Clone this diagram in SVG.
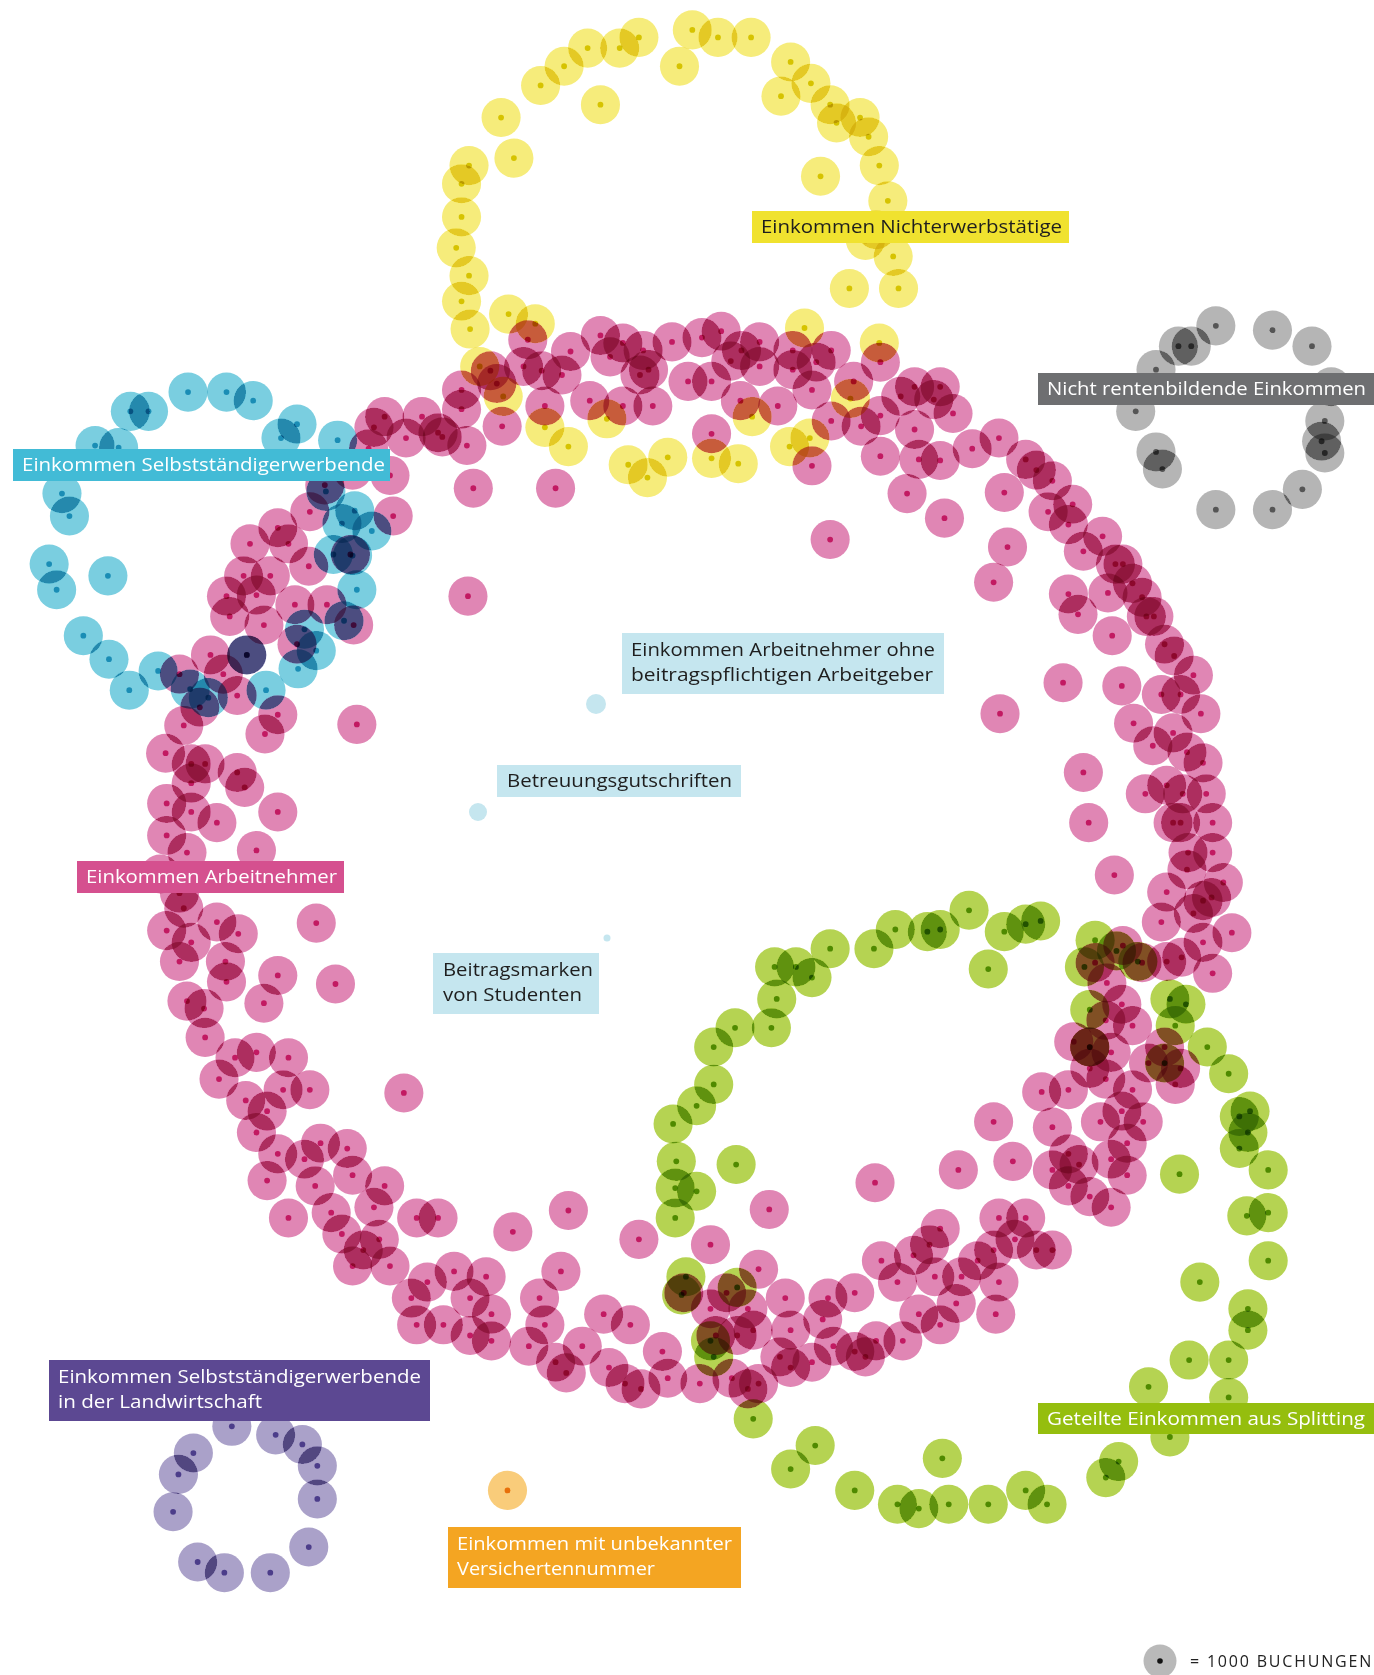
<svg xmlns="http://www.w3.org/2000/svg" width="1374" height="1675" viewBox="0 0 1374 1675">
<style>
.lt{font-family:"Open Sans","Liberation Sans",sans-serif;font-size:17.5px;fill:#fff}
.dk{fill:#1e1e1e}
</style>
<defs>
<g id="M" style="mix-blend-mode:var(--bm,multiply);fill-opacity:var(--fo,1)"><circle r="18.3" style="fill:var(--w,#e086b4)"/><circle r="2.7" style="fill:var(--w,#c21a62);fill-opacity:var(--do,1)"/></g>
<g id="Y" style="mix-blend-mode:var(--bm,multiply);fill-opacity:var(--fo,1)"><circle r="18.3" style="fill:var(--w,#f6ec7b)"/><circle r="2.7" style="fill:var(--w,#d6c300);fill-opacity:var(--do,1)"/></g>
<g id="C" style="mix-blend-mode:var(--bm,multiply);fill-opacity:var(--fo,1)"><circle r="18.3" style="fill:var(--w,#7acee0)"/><circle r="2.7" style="fill:var(--w,#1a8db5);fill-opacity:var(--do,1)"/></g>
<g id="G" style="mix-blend-mode:var(--bm,multiply);fill-opacity:var(--fo,1)"><circle r="18.3" style="fill:var(--w,#b5b5b5)"/><circle r="2.7" style="fill:var(--w,#555555);fill-opacity:var(--do,1)"/></g>
<g id="P" style="mix-blend-mode:var(--bm,multiply);fill-opacity:var(--fo,1)"><circle r="18.3" style="fill:var(--w,#aaa1c9)"/><circle r="2.7" style="fill:var(--w,#4c3d8a);fill-opacity:var(--do,1)"/></g>
<g id="L" style="mix-blend-mode:var(--bm,multiply);fill-opacity:var(--fo,1)"><circle r="18.3" style="fill:var(--w,#b5d352)"/><circle r="2.7" style="fill:var(--w,#4f8a00);fill-opacity:var(--do,1)"/></g>
<g id="O" style="mix-blend-mode:var(--bm,multiply);fill-opacity:var(--fo,1)"><circle r="18.3" style="fill:var(--w,#f9cc7a)"/><circle r="2.7" style="fill:var(--w,#e8700a);fill-opacity:var(--do,1)"/></g>
<filter id="thr" filterUnits="userSpaceOnUse" x="0" y="0" width="1374" height="1675"><feComponentTransfer><feFuncA type="discrete" tableValues="0 0 0 1 1"/></feComponentTransfer></filter>
<mask id="ovm" maskUnits="userSpaceOnUse" x="0" y="0" width="1374" height="1675"><g filter="url(#thr)"><use href="#pts" style="--w:#fff;--fo:0.4;--do:0;--bm:normal"/></g></mask>
</defs>
<rect width="1374" height="1675" fill="#fff"/>
<g id="pts" transform="scale(1.0684)">
<g id="cluster-nichterwerb">
<use href="#Y" x="648" y="28"/><use href="#Y" x="672" y="35"/><use href="#Y" x="703" y="35"/><use href="#Y" x="598" y="35"/><use href="#Y" x="580" y="45"/><use href="#Y" x="550" y="45"/><use href="#Y" x="528" y="62"/><use href="#Y" x="506" y="80"/><use href="#Y" x="469" y="110"/><use href="#Y" x="481" y="148"/><use href="#Y" x="562" y="98"/><use href="#Y" x="636" y="62"/><use href="#Y" x="740" y="58"/><use href="#Y" x="731" y="90"/><use href="#Y" x="759" y="78"/><use href="#Y" x="777" y="98"/><use href="#Y" x="783" y="115"/><use href="#Y" x="805" y="110"/><use href="#Y" x="813" y="128"/><use href="#Y" x="823" y="155"/><use href="#Y" x="768" y="165"/><use href="#Y" x="831" y="188"/><use href="#Y" x="439" y="155"/><use href="#Y" x="432" y="172"/><use href="#Y" x="432" y="203"/><use href="#Y" x="427" y="232"/><use href="#Y" x="439" y="258"/><use href="#Y" x="432" y="282"/><use href="#Y" x="440" y="308"/><use href="#Y" x="476" y="294"/><use href="#Y" x="501" y="303"/><use href="#Y" x="449" y="343"/><use href="#Y" x="471" y="371"/><use href="#Y" x="836" y="240"/><use href="#Y" x="841" y="270"/><use href="#Y" x="795" y="270"/><use href="#Y" x="823" y="321"/><use href="#Y" x="753" y="307"/><use href="#Y" x="510" y="400"/><use href="#Y" x="532" y="418"/><use href="#Y" x="568" y="392"/><use href="#Y" x="588" y="435"/><use href="#Y" x="606" y="447"/><use href="#Y" x="625" y="428"/><use href="#Y" x="666" y="429"/><use href="#Y" x="691" y="434"/><use href="#Y" x="739" y="418"/><use href="#Y" x="758" y="410"/><use href="#Y" x="704" y="390"/><use href="#Y" x="796" y="373"/><use href="#Y" x="820" y="215"/><use href="#Y" x="810" y="225"/>
</g>
<g id="cluster-arbeitnehmer">
<use href="#M" x="330" y="440"/><use href="#M" x="345" y="420"/><use href="#M" x="350" y="400"/><use href="#M" x="365" y="445"/><use href="#M" x="360" y="390"/><use href="#M" x="380" y="410"/><use href="#M" x="395" y="390"/><use href="#M" x="410" y="405"/>
<use href="#M" x="432" y="365"/><use href="#M" x="432" y="383"/><use href="#M" x="414" y="409"/><use href="#M" x="437" y="417"/><use href="#M" x="459" y="347"/><use href="#M" x="465" y="359"/><use href="#M" x="490" y="343"/><use href="#M" x="507" y="347"/><use href="#M" x="510" y="380"/><use href="#M" x="470" y="399"/><use href="#M" x="494" y="318"/><use href="#M" x="534" y="329"/><use href="#M" x="526" y="351"/><use href="#M" x="552" y="375"/><use href="#M" x="562" y="314"/><use href="#M" x="571" y="334"/><use href="#M" x="583" y="321"/><use href="#M" x="602" y="328"/><use href="#M" x="599" y="351"/><use href="#M" x="607" y="346"/><use href="#M" x="583" y="380"/><use href="#M" x="611" y="380"/><use href="#M" x="629" y="320"/><use href="#M" x="644" y="357"/><use href="#M" x="657" y="316"/><use href="#M" x="666" y="357"/><use href="#M" x="675" y="310"/><use href="#M" x="684" y="338"/><use href="#M" x="694" y="328"/><use href="#M" x="693" y="375"/><use href="#M" x="711" y="320"/><use href="#M" x="711" y="343"/><use href="#M" x="728" y="380"/><use href="#M" x="742" y="328"/><use href="#M" x="742" y="346"/><use href="#M" x="760" y="365"/><use href="#M" x="764" y="339"/><use href="#M" x="778" y="328"/><use href="#M" x="778" y="394"/><use href="#M" x="760" y="436"/><use href="#M" x="799" y="357"/><use href="#M" x="806" y="399"/><use href="#M" x="824" y="339"/><use href="#M" x="824" y="389"/><use href="#M" x="824" y="427"/><use href="#M" x="843" y="371"/><use href="#M" x="856" y="362"/><use href="#M" x="856" y="402"/><use href="#M" x="874" y="374"/><use href="#M" x="860" y="430"/><use href="#M" x="880" y="362"/><use href="#M" x="892" y="387"/><use href="#M" x="880" y="431"/><use href="#M" x="666" y="406"/><use href="#M" x="443" y="457"/><use href="#M" x="520" y="457"/><use href="#M" x="849" y="462"/><use href="#M" x="884" y="485"/><use href="#M" x="777" y="505"/>
<use href="#M" x="910" y="420"/><use href="#M" x="935" y="410"/><use href="#M" x="960" y="430"/><use href="#M" x="970" y="440"/><use href="#M" x="985" y="450"/>
<use href="#M" x="940" y="461"/><use href="#M" x="943" y="512"/><use href="#M" x="930" y="545"/><use href="#M" x="981" y="479"/><use href="#M" x="1000" y="491"/><use href="#M" x="1004" y="472"/><use href="#M" x="1014" y="516"/><use href="#M" x="1032" y="502"/><use href="#M" x="1044" y="528"/><use href="#M" x="1051" y="528"/><use href="#M" x="1000" y="556"/><use href="#M" x="1009" y="575"/><use href="#M" x="1037" y="555"/><use href="#M" x="1060" y="546"/><use href="#M" x="1069" y="559"/><use href="#M" x="1073" y="577"/><use href="#M" x="1080" y="577"/><use href="#M" x="1041" y="595"/><use href="#M" x="1090" y="603"/><use href="#M" x="1099" y="614"/><use href="#M" x="1117" y="632"/><use href="#M" x="995" y="639"/><use href="#M" x="1050" y="642"/><use href="#M" x="1087" y="650"/><use href="#M" x="1105" y="650"/><use href="#M" x="1124" y="668"/><use href="#M" x="936" y="668"/><use href="#M" x="1061" y="677"/><use href="#M" x="1098" y="686"/><use href="#M" x="1079" y="698"/><use href="#M" x="1111" y="704"/><use href="#M" x="1126" y="714"/><use href="#M" x="1014" y="723"/><use href="#M" x="1092" y="735"/><use href="#M" x="1072" y="743"/><use href="#M" x="1107" y="743"/><use href="#M" x="1129" y="743"/><use href="#M" x="1019" y="770"/><use href="#M" x="1098" y="770"/><use href="#M" x="1105" y="770"/><use href="#M" x="1135" y="770"/><use href="#M" x="1112" y="798"/><use href="#M" x="1135" y="798"/><use href="#M" x="1043" y="819"/><use href="#M" x="1111" y="814"/><use href="#M" x="1092" y="835"/><use href="#M" x="1145" y="826"/><use href="#M" x="1126" y="843"/><use href="#M" x="1134" y="840"/><use href="#M" x="1117" y="855"/><use href="#M" x="1087" y="863"/><use href="#M" x="1153" y="873"/><use href="#M" x="1126" y="882"/><use href="#M" x="1106" y="896"/><use href="#M" x="1092" y="900"/><use href="#M" x="1135" y="911"/><use href="#M" x="1051" y="885"/><use href="#M" x="1069" y="901"/><use href="#M" x="1025" y="901"/><use href="#M" x="1036" y="920"/>
<use href="#M" x="1050" y="940"/><use href="#M" x="1060" y="960"/><use href="#M" x="1035" y="955"/><use href="#M" x="1090" y="980"/><use href="#M" x="1005" y="975"/><use href="#M" x="1020" y="980"/><use href="#M" x="1040" y="985"/><use href="#M" x="1075" y="995"/><use href="#M" x="1100" y="1015"/><use href="#M" x="1105" y="1000"/><use href="#M" x="1000" y="1020"/><use href="#M" x="1020" y="1000"/><use href="#M" x="1035" y="1010"/><use href="#M" x="1060" y="1020"/><use href="#M" x="985" y="1055"/><use href="#M" x="1030" y="1050"/><use href="#M" x="1050" y="1040"/><use href="#M" x="1070" y="1050"/><use href="#M" x="1055" y="1070"/><use href="#M" x="1000" y="1080"/><use href="#M" x="1040" y="1085"/><use href="#M" x="1055" y="1100"/><use href="#M" x="985" y="1095"/><use href="#M" x="1010" y="1090"/><use href="#M" x="1000" y="1110"/><use href="#M" x="1020" y="1120"/><use href="#M" x="1040" y="1130"/><use href="#M" x="935" y="1140"/><use href="#M" x="960" y="1140"/><use href="#M" x="950" y="1160"/><use href="#M" x="970" y="1170"/><use href="#M" x="985" y="1170"/><use href="#M" x="915" y="1180"/><use href="#M" x="930" y="1170"/><use href="#M" x="935" y="1200"/><use href="#M" x="932" y="1230"/><use href="#M" x="900" y="1195"/><use href="#M" x="875" y="1195"/><use href="#M" x="870" y="1165"/><use href="#M" x="880" y="1150"/><use href="#M" x="855" y="1175"/><use href="#M" x="840" y="1200"/><use href="#M" x="825" y="1180"/><use href="#M" x="800" y="1210"/><use href="#M" x="775" y="1215"/><use href="#M" x="895" y="1220"/><use href="#M" x="880" y="1240"/><use href="#M" x="860" y="1230"/><use href="#M" x="845" y="1255"/><use href="#M" x="820" y="1255"/><use href="#M" x="810" y="1270"/><use href="#M" x="800" y="1265"/><use href="#M" x="780" y="1260"/><use href="#M" x="770" y="1235"/><use href="#M" x="760" y="1275"/><use href="#M" x="740" y="1280"/><use href="#M" x="730" y="1270"/><use href="#M" x="740" y="1245"/><use href="#M" x="735" y="1215"/><use href="#M" x="705" y="1245"/><use href="#M" x="700" y="1225"/><use href="#M" x="710" y="1188"/><use href="#M" x="680" y="1210"/><use href="#M" x="665" y="1165"/><use href="#M" x="640" y="1210"/><use href="#M" x="665" y="1225"/><use href="#M" x="690" y="1250"/><use href="#M" x="685" y="1290"/><use href="#M" x="700" y="1300"/><use href="#M" x="710" y="1295"/><use href="#M" x="670" y="1250"/><use href="#M" x="655" y="1295"/><use href="#M" x="625" y="1290"/><use href="#M" x="620" y="1265"/><use href="#M" x="600" y="1300"/><use href="#M" x="585" y="1295"/><use href="#M" x="590" y="1240"/><use href="#M" x="570" y="1280"/><use href="#M" x="565" y="1230"/><use href="#M" x="545" y="1260"/><use href="#M" x="530" y="1285"/><use href="#M" x="520" y="1275"/><use href="#M" x="525" y="1190"/><use href="#M" x="505" y="1215"/><use href="#M" x="510" y="1240"/><use href="#M" x="495" y="1260"/><use href="#M" x="460" y="1255"/><use href="#M" x="440" y="1250"/><use href="#M" x="460" y="1230"/><use href="#M" x="455" y="1195"/><use href="#M" x="440" y="1215"/><use href="#M" x="425" y="1190"/><use href="#M" x="415" y="1240"/><use href="#M" x="390" y="1240"/><use href="#M" x="385" y="1215"/><use href="#M" x="400" y="1200"/><use href="#M" x="410" y="1140"/><use href="#M" x="390" y="1140"/><use href="#M" x="365" y="1185"/><use href="#M" x="330" y="1185"/><use href="#M" x="340" y="1170"/><use href="#M" x="355" y="1160"/><use href="#M" x="320" y="1155"/><use href="#M" x="350" y="1130"/><use href="#M" x="360" y="1110"/><use href="#M" x="310" y="1135"/><use href="#M" x="330" y="1100"/><use href="#M" x="325" y="1075"/><use href="#M" x="295" y="1110"/><use href="#M" x="270" y="1140"/><use href="#M" x="250" y="1105"/><use href="#M" x="300" y="1070"/><use href="#M" x="285" y="1085"/><use href="#M" x="260" y="1080"/><use href="#M" x="240" y="1060"/><use href="#M" x="290" y="1020"/><use href="#M" x="265" y="1020"/><use href="#M" x="270" y="990"/><use href="#M" x="250" y="1040"/><use href="#M" x="230" y="1030"/><use href="#M" x="205" y="1010"/><use href="#M" x="220" y="990"/><use href="#M" x="240" y="985"/>
<use href="#M" x="234" y="509"/><use href="#M" x="260" y="494"/><use href="#M" x="290" y="479"/><use href="#M" x="304" y="454"/><use href="#M" x="368" y="483"/><use href="#M" x="270" y="509"/><use href="#M" x="289" y="530"/><use href="#M" x="328" y="519"/><use href="#M" x="253" y="539"/><use href="#M" x="228" y="539"/><use href="#M" x="240" y="557"/><use href="#M" x="212" y="558"/><use href="#M" x="215" y="577"/><use href="#M" x="247" y="585"/><use href="#M" x="276" y="566"/><use href="#M" x="306" y="566"/><use href="#M" x="331" y="585"/><use href="#M" x="197" y="613"/><use href="#M" x="209" y="631"/><use href="#M" x="222" y="651"/><use href="#M" x="231" y="613"/><use href="#M" x="260" y="669"/><use href="#M" x="248" y="687"/><use href="#M" x="278" y="603"/><use href="#M" x="168" y="631"/><use href="#M" x="172" y="679"/><use href="#M" x="187" y="662"/><use href="#M" x="155" y="705"/><use href="#M" x="179" y="715"/><use href="#M" x="192" y="715"/><use href="#M" x="222" y="723"/><use href="#M" x="229" y="737"/><use href="#M" x="179" y="733"/><use href="#M" x="156" y="752"/><use href="#M" x="179" y="760"/><use href="#M" x="203" y="770"/><use href="#M" x="156" y="782"/><use href="#M" x="175" y="798"/><use href="#M" x="260" y="760"/><use href="#M" x="240" y="796"/><use href="#M" x="334" y="678"/><use href="#M" x="150" y="818"/><use href="#M" x="168" y="836"/><use href="#M" x="172" y="850"/><use href="#M" x="156" y="871"/><use href="#M" x="203" y="863"/><use href="#M" x="223" y="874"/><use href="#M" x="179" y="882"/><use href="#M" x="168" y="900"/><use href="#M" x="211" y="900"/><use href="#M" x="296" y="864"/><use href="#M" x="260" y="913"/><use href="#M" x="314" y="921"/><use href="#M" x="212" y="919"/><use href="#M" x="175" y="937"/><use href="#M" x="191" y="944"/><use href="#M" x="247" y="939"/><use href="#M" x="192" y="971"/>
<use href="#M" x="438" y="558"/><use href="#M" x="378" y="1023"/><use href="#M" x="480" y="1153"/><use href="#M" x="532" y="1133"/><use href="#M" x="598" y="1160"/><use href="#M" x="720" y="1132"/><use href="#M" x="819" y="1107"/><use href="#M" x="897" y="1095"/><use href="#M" x="930" y="1050"/><use href="#M" x="948" y="1087"/><use href="#M" x="975" y="1022"/>
</g>
<g id="cluster-selbststaendig">
<use href="#C" x="122" y="385"/><use href="#C" x="139" y="385"/><use href="#C" x="176" y="367"/><use href="#C" x="212" y="367"/><use href="#C" x="237" y="375"/><use href="#C" x="278" y="397"/><use href="#C" x="263" y="410"/><use href="#C" x="316" y="412"/><use href="#C" x="89" y="417"/><use href="#C" x="111" y="419"/><use href="#C" x="58" y="462"/><use href="#C" x="65" y="483"/><use href="#C" x="46" y="528"/><use href="#C" x="53" y="552"/><use href="#C" x="101" y="539"/><use href="#C" x="78" y="595"/><use href="#C" x="102" y="617"/><use href="#C" x="121" y="646"/><use href="#C" x="148" y="628"/><use href="#C" x="195" y="653"/><use href="#C" x="178" y="645"/><use href="#C" x="231" y="613"/><use href="#C" x="249" y="646"/><use href="#C" x="279" y="626"/><use href="#C" x="296" y="609"/><use href="#C" x="285" y="589"/><use href="#C" x="322" y="581"/><use href="#C" x="334" y="552"/><use href="#C" x="312" y="519"/><use href="#C" x="330" y="520"/><use href="#C" x="320" y="490"/><use href="#C" x="348" y="497"/><use href="#C" x="305" y="460"/><use href="#C" x="332" y="478"/>
</g>
<g id="cluster-nicht-rentenbildend">
<use href="#G" x="1138" y="305"/><use href="#G" x="1191" y="309"/><use href="#G" x="1228" y="324"/><use href="#G" x="1103" y="324"/><use href="#G" x="1115" y="324"/><use href="#G" x="1082" y="346"/><use href="#G" x="1246" y="362"/><use href="#G" x="1063" y="385"/><use href="#G" x="1240" y="394"/><use href="#G" x="1237" y="413"/><use href="#G" x="1240" y="424"/><use href="#G" x="1082" y="423"/><use href="#G" x="1088" y="439"/><use href="#G" x="1219" y="458"/><use href="#G" x="1138" y="477"/><use href="#G" x="1191" y="477"/>
</g>
<g id="cluster-splitting">
<use href="#L" x="907" y="852"/><use href="#L" x="960" y="865"/><use href="#L" x="974" y="862"/><use href="#L" x="940" y="872"/><use href="#L" x="925" y="907"/><use href="#L" x="880" y="870"/><use href="#L" x="868" y="872"/><use href="#L" x="838" y="870"/><use href="#L" x="818" y="888"/><use href="#L" x="777" y="888"/><use href="#L" x="760" y="915"/><use href="#L" x="745" y="905"/><use href="#L" x="725" y="905"/><use href="#L" x="727" y="935"/><use href="#L" x="722" y="962"/><use href="#L" x="688" y="962"/><use href="#L" x="668" y="980"/><use href="#L" x="668" y="1015"/><use href="#L" x="652" y="1035"/><use href="#L" x="630" y="1052"/><use href="#L" x="633" y="1087"/><use href="#L" x="632" y="1112"/><use href="#L" x="632" y="1140"/><use href="#L" x="652" y="1115"/><use href="#L" x="689" y="1090"/><use href="#L" x="642" y="1195"/><use href="#L" x="638" y="1212"/><use href="#L" x="690" y="1205"/><use href="#L" x="665" y="1255"/><use href="#L" x="668" y="1270"/><use href="#L" x="705" y="1328"/><use href="#L" x="740" y="1375"/><use href="#L" x="763" y="1353"/><use href="#L" x="800" y="1395"/><use href="#L" x="840" y="1408"/><use href="#L" x="860" y="1412"/><use href="#L" x="882" y="1365"/><use href="#L" x="888" y="1408"/><use href="#L" x="925" y="1408"/><use href="#L" x="960" y="1395"/><use href="#L" x="980" y="1408"/><use href="#L" x="1035" y="1383"/><use href="#L" x="1047" y="1368"/><use href="#L" x="1075" y="1298"/><use href="#L" x="1095" y="1345"/><use href="#L" x="1113" y="1273"/><use href="#L" x="1150" y="1273"/><use href="#L" x="1150" y="1308"/><use href="#L" x="1168" y="1245"/><use href="#L" x="1168" y="1225"/><use href="#L" x="1123" y="1200"/><use href="#L" x="1187" y="1180"/><use href="#L" x="1187" y="1135"/><use href="#L" x="1167" y="1138"/><use href="#L" x="1104" y="1099"/><use href="#L" x="1187" y="1095"/><use href="#L" x="1160" y="1075"/><use href="#L" x="1168" y="1060"/><use href="#L" x="1160" y="1045"/><use href="#L" x="1170" y="1040"/><use href="#L" x="1150" y="1005"/><use href="#L" x="1130" y="980"/><use href="#L" x="1100" y="960"/><use href="#L" x="1110" y="940"/><use href="#L" x="1095" y="935"/><use href="#L" x="1025" y="880"/><use href="#L" x="1015" y="905"/><use href="#L" x="1045" y="890"/><use href="#L" x="1065" y="900"/><use href="#L" x="1020" y="945"/><use href="#L" x="1020" y="980"/><use href="#L" x="1090" y="995"/>
</g>
<g id="cluster-landwirtschaft">
<use href="#P" x="217" y="1335"/><use href="#P" x="258" y="1343"/><use href="#P" x="283" y="1352"/><use href="#P" x="297" y="1372"/><use href="#P" x="297" y="1403"/><use href="#P" x="289" y="1448"/><use href="#P" x="253" y="1472"/><use href="#P" x="210" y="1472"/><use href="#P" x="185" y="1462"/><use href="#P" x="162" y="1415"/><use href="#P" x="167" y="1380"/><use href="#P" x="181" y="1360"/>
</g>
<g id="cluster-unbekannt"><use href="#O" x="475" y="1395"/></g>
</g>
<g id="overlap-darkening" mask="url(#ovm)" opacity="0.5" style="mix-blend-mode:multiply"><use href="#pts"/></g>
<g id="cluster-klein" fill="#c5e6ef">
<circle cx="596" cy="704" r="10"/><circle cx="478" cy="812" r="9"/><circle cx="607" cy="938" r="3.5"/>
</g>
<g id="labels" class="lt">
<g id="label-selbststaendig"><rect x="13" y="449" width="377" height="32" fill="#42bbd6"/><text x="22" y="471" textLength="363" lengthAdjust="spacingAndGlyphs">Einkommen Selbstständigerwerbende</text></g>
<g id="label-nichterwerb"><rect x="752" y="211" width="317" height="32" fill="#f0e22f"/><text class="dk" x="761" y="233" textLength="301" lengthAdjust="spacingAndGlyphs">Einkommen Nichterwerbstätige</text></g>
<g id="label-nicht-rentenbildend"><rect x="1038" y="373" width="336" height="32" fill="#6e6f71"/><text x="1047" y="395" textLength="319" lengthAdjust="spacingAndGlyphs">Nicht rentenbildende Einkommen</text></g>
<g id="label-ohne-arbeitgeber"><rect x="622" y="633" width="322" height="61" fill="#c5e6ef"/><text class="dk" x="631" y="656" textLength="304" lengthAdjust="spacingAndGlyphs">Einkommen Arbeitnehmer ohne</text><text class="dk" x="631" y="681" textLength="302" lengthAdjust="spacingAndGlyphs">beitragspflichtigen Arbeitgeber</text></g>
<g id="label-betreuung"><rect x="497" y="765" width="244" height="32" fill="#c5e6ef"/><text class="dk" x="507" y="787" textLength="225" lengthAdjust="spacingAndGlyphs">Betreuungsgutschriften</text></g>
<g id="label-arbeitnehmer"><rect x="77" y="861" width="267" height="32" fill="#d5508f"/><text x="86" y="883" textLength="251" lengthAdjust="spacingAndGlyphs">Einkommen Arbeitnehmer</text></g>
<g id="label-studenten"><rect x="433" y="953" width="166" height="61" fill="#c5e6ef"/><text class="dk" x="443" y="976" textLength="150" lengthAdjust="spacingAndGlyphs">Beitragsmarken</text><text class="dk" x="443" y="1001" textLength="139" lengthAdjust="spacingAndGlyphs">von Studenten</text></g>
<g id="label-landwirtschaft"><rect x="49" y="1360" width="381" height="61" fill="#5c4892"/><text x="58" y="1383" textLength="363" lengthAdjust="spacingAndGlyphs">Einkommen Selbstständigerwerbende</text><text x="58" y="1408" textLength="204" lengthAdjust="spacingAndGlyphs">in der Landwirtschaft</text></g>
<g id="label-unbekannt"><rect x="448" y="1527" width="293" height="61" fill="#f4a522"/><text x="457" y="1550" textLength="275" lengthAdjust="spacingAndGlyphs">Einkommen mit unbekannter</text><text x="457" y="1575" textLength="198" lengthAdjust="spacingAndGlyphs">Versichertennummer</text></g>
<g id="label-splitting"><rect x="1038" y="1403" width="336" height="31" fill="#95be0e"/><text x="1047" y="1425" textLength="318" lengthAdjust="spacingAndGlyphs">Geteilte Einkommen aus Splitting</text></g>
</g>
<g id="legend"><circle cx="1160" cy="1661" r="16.5" fill="#b9b9b9"/><circle cx="1160" cy="1661" r="2.8" fill="#111"/><text x="1190" y="1667" font-family="'Open Sans','Liberation Sans',sans-serif" font-size="16" fill="#222" letter-spacing="1.8">= 1000 BUCHUNGEN</text></g>
</svg>
